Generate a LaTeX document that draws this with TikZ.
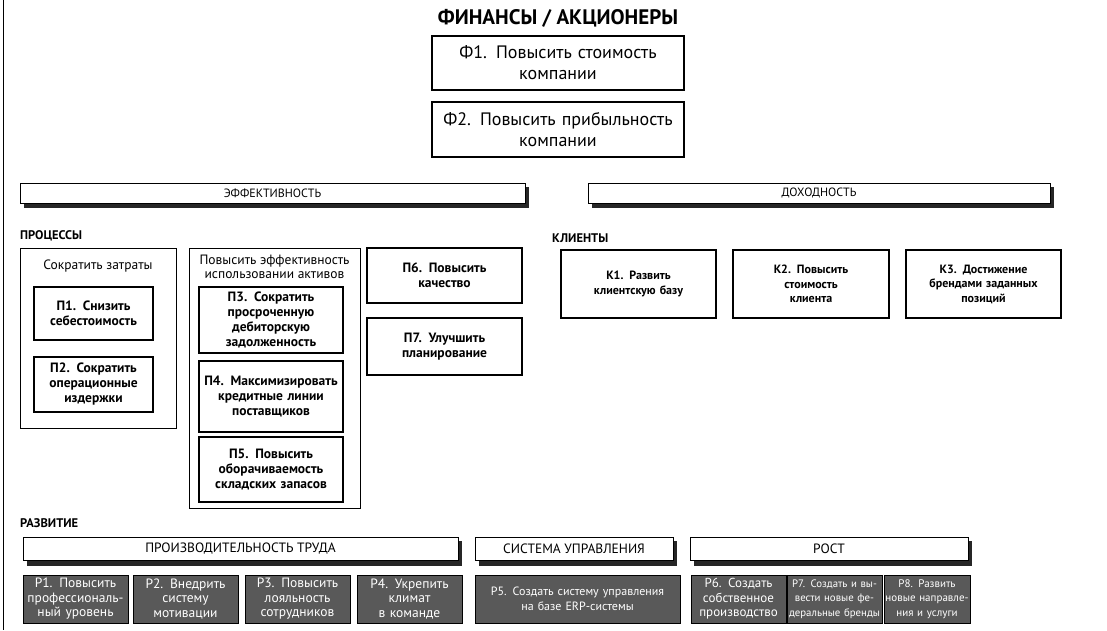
\documentclass[tikz,border=0pt]{standalone}
\usepackage{fontspec}
\setmainfont{PT Sans}
\begin{document}
\begin{tikzpicture}[x=1pt,y=-1pt,
  box/.style={draw=black,line width=1.1pt,fill=white,align=center,inner sep=1pt,font=\fontsize{13.5}{15}\selectfont\bfseries},
  kbox/.style={draw=black,line width=1.1pt,fill=white,align=center,inner sep=1pt,font=\fontsize{12}{14.5}\selectfont\bfseries},
  fbox/.style={draw=black,line width=1.1pt,fill=white,align=center,inner sep=1pt,font=\fontsize{18}{21}\selectfont},
  outer/.style={draw=black,line width=0.9pt},
  bar/.style={draw=black,line width=0.9pt,fill=white,align=center,inner sep=0pt,font=\fontsize{12}{12}\selectfont},
  barshadow/.style={fill=black!85},
  dark/.style={draw=black,line width=1pt,fill=black!65,text=white,align=center,inner sep=0pt,font=\fontsize{13.5}{14.5}\selectfont},
  head/.style={anchor=west,font=\fontsize{12.5}{13}\selectfont\bfseries,inner sep=0pt}]
\useasboundingbox (0,0) rectangle (1107,630);
\draw[line width=1pt] (3,0) -- (3,630);
% title
\node[font=\fontsize{21}{23}\selectfont\bfseries] (title) at (558,18) {ФИНАНСЫ / АКЦИОНЕРЫ};
\node[fbox,minimum width=252,minimum height=54,text width=248] (f1) at (558,63) {Ф1. Повысить стоимость\\компании};
\node[fbox,minimum width=252,minimum height=55,text width=248] (f2) at (558,129.5) {Ф2. Повысить прибыльность\\компании};
% bars
\fill[barshadow] (24,187) rectangle (529,208);
\node[bar,minimum width=505,minimum height=20] (eff) at (272.5,193) {ЭФФЕКТИВНОСТЬ};
\fill[barshadow] (592,187) rectangle (1054,208);
\node[bar,minimum width=462,minimum height=20] (dox) at (819,193) {ДОХОДНОСТЬ};
% processes
\node[head] (proc) at (20,236) {ПРОЦЕССЫ};
\draw[outer] (20,248) rectangle (176,428);
\node[font=\fontsize{13.5}{14}\selectfont] (zatr) at (98,266) {Сократить затраты};
\node[box,minimum width=119,minimum height=53,text width=117] (p1) at (93.5,313.5) {П1. Снизить\\себестоимость};
\node[box,minimum width=119,minimum height=55,text width=117] (p2) at (93.5,384.5) {П2. Сократить\\операционные\\издержки};
\draw[outer] (189,248) rectangle (360,508);
\node[font=\fontsize{13.5}{13.5}\selectfont,align=center,inner sep=0pt] (akt) at (274.5,267) {Повысить эффективность\\использовании активов};
\node[box,minimum width=144,minimum height=66,text width=142] (p3) at (271,320) {П3. Сократить\\просроченную\\дебиторскую\\задолженность};
\node[box,minimum width=144,minimum height=71,text width=142] (p4) at (271,396.5) {П4. Максимизировать\\кредитные линии\\поставщиков};
\node[box,minimum width=144,minimum height=65,text width=142] (p5) at (271,469.5) {П5. Повысить\\оборачиваемость\\складских запасов};
\node[box,minimum width=155,minimum height=55,text width=152] (p6) at (444.5,275.5) {П6. Повысить\\качество};
\node[box,minimum width=155,minimum height=57,text width=152] (p7) at (444.5,346.5) {П7. Улучшить\\планирование};
% clients
\node[head] (kl) at (552,238) {КЛИЕНТЫ};
\node[kbox,minimum width=155,minimum height=68,text width=152] (k1) at (638.5,284) {К1. Развить\\клиентскую базу};
\node[kbox,minimum width=156,minimum height=68,text width=152] (k2) at (811,284) {К2. Повысить\\стоимость\\клиента};
\node[kbox,minimum width=155,minimum height=68,text width=152] (k3) at (983.5,284) {К3. Достижение\\брендами заданных\\позиций};
% development
\node[head] (razv) at (20,523) {РАЗВИТИЕ};
\fill[barshadow] (27,541) rectangle (462,566);
\node[bar,minimum width=435,minimum height=23,font=\fontsize{13.5}{14}\selectfont] (prod) at (240.5,548.5) {ПРОИЗВОДИТЕЛЬНОСТЬ ТРУДА};
\fill[barshadow] (479,541) rectangle (677,566);
\node[bar,minimum width=198,minimum height=23,font=\fontsize{13.5}{14}\selectfont] (sys) at (574,548.5) {СИСТЕМА УПРАВЛЕНИЯ};
\fill[barshadow] (694,541) rectangle (972,566);
\node[bar,minimum width=278,minimum height=23,font=\fontsize{13.5}{14}\selectfont] (rost) at (829,548.5) {РОСТ};
\node[dark,minimum width=105,minimum height=48,text width=104] (r1) at (75.5,599) {Р1. Повысить\\профессиональ-\\ный уровень};
\node[dark,minimum width=105,minimum height=48,text width=104] (r2) at (185.5,599) {Р2. Внедрить\\систему\\мотивации};
\node[dark,minimum width=105,minimum height=48,text width=104] (r3) at (297.5,599) {Р3. Повысить\\лояльность\\сотрудников};
\node[dark,minimum width=105,minimum height=48,text width=104] (r4) at (409.5,599) {Р4. Укрепить\\климат\\в команде};
\node[dark,minimum width=205,minimum height=48,text width=203,font=\fontsize{12}{14.5}\selectfont] (r5) at (577.5,599) {Р5. Создать систему управления\\на базе ERP-системы};
\node[dark,minimum width=95,minimum height=48,text width=94,font=\fontsize{13}{14.5}\selectfont] (r6) at (738.5,599) {Р6. Создать\\собственное\\производство};
\node[dark,minimum width=95,minimum height=48,text width=94,font=\fontsize{10.8}{14.5}\selectfont] (r7) at (834.5,599) {Р7. Создать и вы-\\вести новые фе-\\деральные бренды};
\node[dark,minimum width=86,minimum height=48,text width=85,font=\fontsize{11}{14.5}\selectfont] (r8) at (927,599) {Р8. Развить\\новые направле-\\ния и услуги};
\end{tikzpicture}
\end{document}
